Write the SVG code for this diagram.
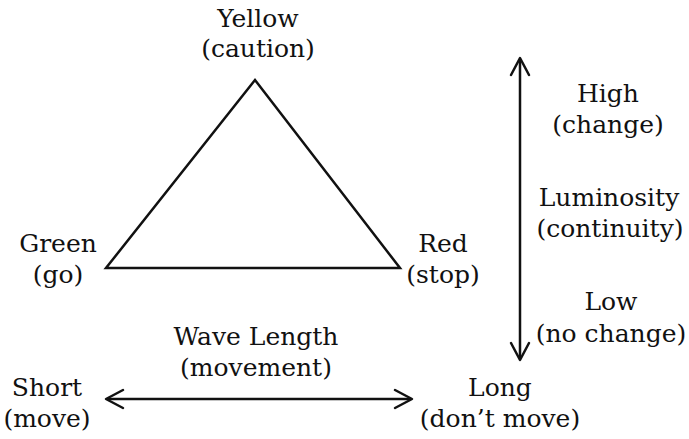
<svg xmlns="http://www.w3.org/2000/svg" width="689" height="439" viewBox="0 0 689 439">
<style>
text{font-family:"DejaVu Serif","Liberation Serif",serif;font-size:25px;fill:#111;text-anchor:middle}
.ln{stroke:#111;stroke-width:2.5;fill:none}
.ah{stroke:#111;stroke-width:2.5;fill:none;stroke-linecap:round;stroke-linejoin:round}
</style>
<rect width="689" height="439" fill="#fff"/>
<g id="connectors">
<polygon class="ln" points="255,80 106,268 400,268"/>
<line class="ln" x1="520" y1="60" x2="520" y2="358"/>
<polyline class="ah" points="511,75 520,58 529,75"/>
<polyline class="ah" points="511,343 520,360 529,343"/>
<line class="ln" x1="108" y1="399" x2="410" y2="399"/>
<polyline class="ah" points="123,390 106,399 123,408"/>
<polyline class="ah" points="395,390 412,399 395,408"/>
</g>
<g id="yellow"><text x="258" y="27">Yellow</text><text x="258" y="57">(caution)</text></g>
<g id="green"><text x="58" y="252">Green</text><text x="58" y="283">(go)</text></g>
<g id="red"><text x="443" y="252">Red</text><text x="443" y="283">(stop)</text></g>
<g id="high"><text x="608" y="102">High</text><text x="608" y="133">(change)</text></g>
<g id="luminosity"><text x="609" y="206">Luminosity</text><text x="610" y="237">(continuity)</text></g>
<g id="low"><text x="611" y="310">Low</text><text x="611" y="342">(no change)</text></g>
<g id="wavelength"><text x="256" y="345">Wave Length</text><text x="256" y="376">(movement)</text></g>
<g id="short"><text x="47" y="396">Short</text><text x="47" y="427">(move)</text></g>
<g id="long"><text x="500" y="396">Long</text><text x="500" y="427">(don’t move)</text></g>
</svg>
